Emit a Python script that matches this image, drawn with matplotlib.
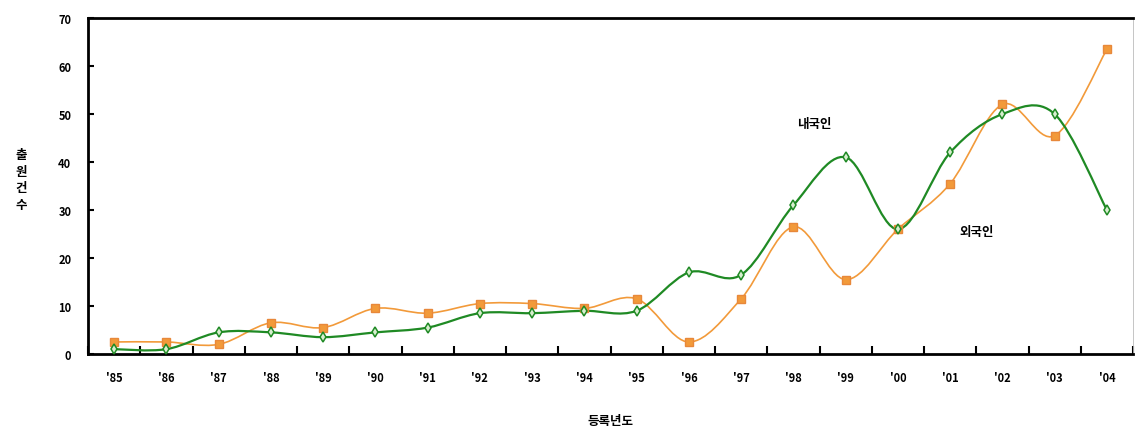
import numpy as np
import matplotlib.pyplot as plt
from matplotlib.path import Path
from matplotlib.patches import PathPatch

plt.rcParams['font.family'] = ['Noto Sans CJK KR', 'DejaVu Sans']

years = ["'85", "'86", "'87", "'88", "'89", "'90", "'91", "'92", "'93", "'94",
         "'95", "'96", "'97", "'98", "'99", "'00", "'01", "'02", "'03", "'04"]
domestic = [1, 1, 4.5, 4.5, 3.5, 4.5, 5.5, 8.5, 8.5, 9, 9, 17, 16.5, 31, 41, 26, 42, 50, 50, 30]
foreign = [2.5, 2.5, 2, 6.5, 5.5, 9.5, 8.5, 10.5, 10.5, 9.5, 11.5, 2.5, 11.5, 26.5, 15.5, 26, 35.5, 52, 45.5, 63.5]

GREEN = '#1f8a24'
ORANGE = '#f29a3a'


def smooth_path(xs, ys):
    # Catmull-Rom style bezier through every point (like spreadsheet "smoothed line")
    pts = np.column_stack([xs, ys]).astype(float)
    verts = [pts[0]]
    codes = [Path.MOVETO]
    n = len(pts)
    for i in range(n - 1):
        p0 = pts[max(i - 1, 0)]
        p1 = pts[i]
        p2 = pts[i + 1]
        p3 = pts[min(i + 2, n - 1)]
        c1 = p1 + (p2 - p0) / 6.0
        c2 = p2 - (p3 - p1) / 6.0
        verts += [c1, c2, p2]
        codes += [Path.CURVE4] * 3
    return Path(verts, codes)


fig = plt.figure(figsize=(11.36, 4.35), dpi=100)
ax = fig.add_axes([0.0775, 0.184, 0.9199, 0.772])

x = np.arange(len(years))

ax.add_patch(PathPatch(smooth_path(x, foreign), fill=False, edgecolor=ORANGE, lw=1.2, zorder=2))
ax.add_patch(PathPatch(smooth_path(x, domestic), fill=False, edgecolor=GREEN, lw=1.6, zorder=3))
ax.plot(x, foreign, ls='none', marker='s', ms=6, mfc=ORANGE, mec='#e8883a', zorder=4)
ax.plot(x, domestic, ls='none', marker='d', ms=5, mfc='#d8eed0', mec=GREEN, mew=1.1, zorder=5)

ax.text(13.4, 48, '내국인', fontsize=9, fontweight='bold', ha='center', va='center')
ax.text(16.5, 25.5, '외국인', fontsize=9, fontweight='bold', ha='center', va='center')

ax.set_xlim(-0.5, len(years) - 0.5)
ax.set_ylim(0, 70)
ax.set_yticks(range(0, 71, 10))
ax.set_xticks(np.arange(-0.5, len(years), 1.0))
ax.set_xticklabels([])
ax.set_xticks(x, minor=True)
ax.set_xticklabels(years, minor=True)
ax.tick_params(axis='x', which='major', direction='in', length=6, width=1.5)
ax.tick_params(axis='x', which='minor', length=0, pad=12, labelsize=8)
ax.tick_params(axis='y', direction='in', length=4, width=1.5, pad=12, labelsize=8)
for lab in ax.get_xticklabels(minor=True) + ax.get_yticklabels():
    lab.set_fontweight('bold')

for side in ['left', 'bottom', 'top']:
    ax.spines[side].set_linewidth(2)
ax.spines['right'].set_linewidth(0.6)
ax.spines['right'].set_color('#bbbbbb')

ax.set_xlabel('등록년도', fontsize=9, fontweight='bold', labelpad=22)
fig.text(0.019, 0.585, '출\n원\n건\n수', fontsize=9, fontweight='bold',
         ha='center', va='center', linespacing=1.35)

fig.savefig('out.png', dpi=100)
